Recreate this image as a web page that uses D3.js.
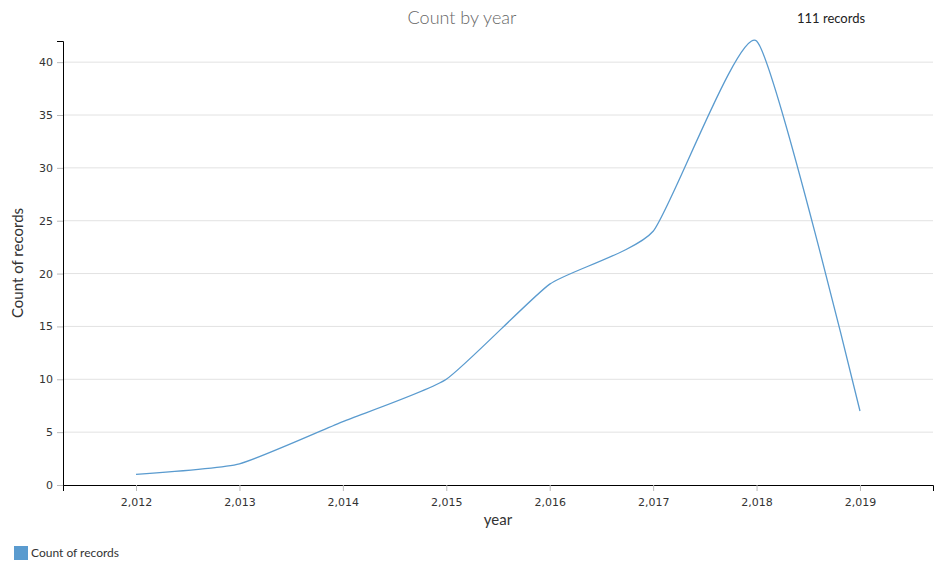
<!DOCTYPE html>
<html>
<head>
<meta charset="utf-8">
<script src="https://cdn.jsdelivr.net/npm/d3@7"></script>
<style>
  body { margin: 0; background: #fff; }
  svg { display: block; }
</style>
</head>
<body>
<svg id="chart" width="944" height="566"></svg>
<script>
const years = [2012, 2013, 2014, 2015, 2016, 2017, 2018, 2019];
const counts = [1, 2, 6, 10, 19, 24, 42, 7];
const yTicks = [0, 5, 10, 15, 20, 25, 30, 35, 40];
const seriesName = "Count of records";
const titleText = "Count by year";
const xLabel = "year";
const yLabel = "Count of records";

(function () {
const data = years.map((yr, i) => ({ year: yr, count: counts[i] }));
const total = d3.sum(counts);

const svg = d3.select("#chart");
const pLeft = 63, pRight = 933, pTop = 41, pBottom = 485;
const pad = 0.706;

const x = d3.scaleLinear()
  .domain([d3.min(years) - pad, d3.max(years) + pad])
  .range([pLeft, pRight]);
const y = d3.scaleLinear()
  .domain([0, d3.max(counts)])
  .range([pBottom, pTop]);

const tickFont = "DejaVu Sans, Verdana, sans-serif";
const color = "#5a9bcf";

// gridlines
svg.append("g")
  .selectAll("line")
  .data(yTicks.filter(d => d > 0))
  .join("line")
  .attr("x1", pLeft).attr("x2", pRight)
  .attr("y1", d => y(d)).attr("y2", d => y(d))
  .attr("stroke", "#e2e2e2").attr("stroke-width", 1);

// y axis
const yAxis = svg.append("g")
  .attr("transform", `translate(${pLeft},0)`)
  .call(d3.axisLeft(y).tickValues(yTicks).tickSize(6).tickSizeOuter(6).tickPadding(4));
yAxis.select(".domain").attr("stroke", "#000");
yAxis.selectAll(".tick line").attr("stroke", "#bbb");
yAxis.selectAll(".tick text").attr("font-family", tickFont).attr("font-size", 11).attr("fill", "#333");

// x axis
const xAxis = svg.append("g")
  .attr("transform", `translate(0,${pBottom})`)
  .call(d3.axisBottom(x).tickValues(years).tickFormat(d3.format(",")).tickSize(6).tickSizeOuter(6).tickPadding(7));
xAxis.select(".domain").attr("stroke", "#000");
xAxis.selectAll(".tick line").attr("stroke", "#bbb");
xAxis.selectAll(".tick text").attr("font-family", tickFont).attr("font-size", 11).attr("fill", "#333");

// line
const line = d3.line()
  .x(d => x(d.year))
  .y(d => y(d.count))
  .curve(d3.curveCardinal.tension(0.5));
svg.append("path")
  .datum(data)
  .attr("d", line)
  .attr("fill", "none")
  .attr("stroke", color)
  .attr("stroke-width", 1.3);

// title
svg.append("text")
  .attr("x", 462).attr("y", 24)
  .attr("text-anchor", "middle")
  .attr("font-family", "Lato, sans-serif")
  .attr("font-weight", 300)
  .attr("font-size", 18)
  .attr("fill", "#666")
  .text(titleText);

svg.append("text")
  .attr("x", 797).attr("y", 23)
  .attr("font-family", "Lato, sans-serif")
  .attr("font-size", 13)
  .attr("fill", "#222")
  .text(`${total} records`);

// axis labels
svg.append("text")
  .attr("x", (pLeft + pRight) / 2).attr("y", 525)
  .attr("text-anchor", "middle")
  .attr("font-family", "Lato, sans-serif")
  .attr("font-size", 15)
  .attr("fill", "#333")
  .text(xLabel);

svg.append("text")
  .attr("transform", `translate(23,${(pTop + pBottom) / 2}) rotate(-90)`)
  .attr("text-anchor", "middle")
  .attr("font-family", "Lato, sans-serif")
  .attr("font-size", 15)
  .attr("fill", "#333")
  .text(yLabel);

// legend
const lg = svg.append("g").attr("transform", "translate(14,546)");
lg.append("rect").attr("width", 14).attr("height", 14).attr("fill", color);
lg.append("text")
  .attr("x", 17).attr("y", 11)
  .attr("font-family", "Lato, sans-serif")
  .attr("font-size", 12)
  .attr("fill", "#333")
  .text(seriesName);
})();
</script>
</body>
</html>
